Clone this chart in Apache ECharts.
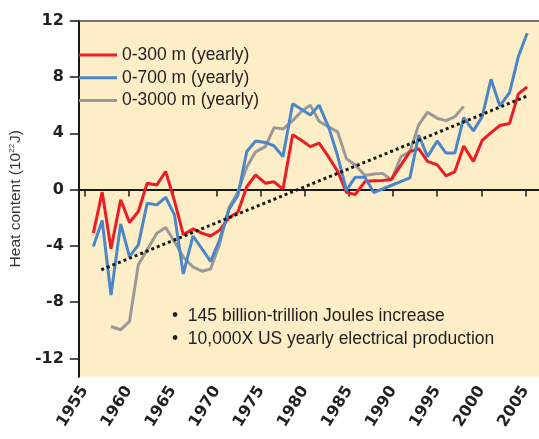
<!DOCTYPE html>
<html>
<head>
<meta charset="utf-8">
<script src="https://cdn.jsdelivr.net/npm/echarts@6/dist/echarts.min.js"></script>
<style>
html,body{margin:0;padding:0;background:#fff;}
#c{width:539px;height:439px;}
</style>
</head>
<body>
<div id="c"></div>
<script>
// Years (red and blue yearly series)
const years = [1956.0,1957.0,1958.0,1959.1,1960.1,1961.1,1962.1,1963.2,1964.2,1965.2,
  1966.2,1967.3,1968.3,1969.3,1970.3,1971.4,1972.4,1973.4,1974.4,1975.5,
  1976.5,1977.5,1978.6,1979.6,1980.6,1981.6,1982.7,1983.7,1984.7,1985.7,
  1986.8,1987.8,1988.8,1989.8,1990.9,1991.9,1992.9,1993.9,1995.0,1996.0,
  1997.0,1998.0,1999.1,2000.1,2001.1,2002.1,2003.2,2004.2,2005.2];
const red300 = [-3.1,-0.18,-4.21,-0.73,-2.34,-1.56,0.45,0.33,1.28,-0.8,
  -3.2,-2.8,-3.1,-3.3,-2.9,-2.0,-1.6,0.2,1.05,0.45,
  0.55,0.03,3.9,3.5,3.05,3.3,2.3,1.3,-0.2,-0.35,
  0.57,0.62,0.65,0.72,1.75,2.7,2.9,2.0,1.75,0.97,
  1.28,3.1,2.0,3.5,4.05,4.55,4.7,6.8,7.3];
const blue700 = [-4.05,-2.2,-7.5,-2.44,-4.76,-3.93,-0.97,-1.09,-0.55,-1.8,
  -6.0,-3.3,-4.2,-5.1,-3.6,-1.4,-0.4,2.7,3.45,3.35,
  3.1,2.34,6.1,5.7,5.3,6.0,4.4,2.4,-0.05,0.88,
  0.88,-0.21,null,null,null,0.83,3.88,2.34,3.45,2.59,
  2.59,5.11,4.17,5.18,7.84,5.94,6.89,9.45,11.11];
// 0-3000 m series (running pentads)
const grayYears = [1958.0,1959.1,1960.1,1961.1,1962.1,1963.2,1964.2,1965.2,
  1966.2,1967.3,1968.3,1969.3,1970.3,1971.4,1972.4,1973.4,1974.4,1975.5,
  1976.5,1977.5,1978.6,1979.6,1980.6,1981.6,1982.7,1983.7,1984.7,1985.7,
  1986.8,1987.8,1988.8,1989.8,1990.9,1991.9,1992.9,1993.9,1995.0,1996.0,
  1997.0,1998.0];
const gray3000 = [-9.73,-9.96,-9.37,-5.35,-4.28,-3.1,-2.7,-3.7,
  -4.8,-5.5,-5.8,-5.65,-3.9,-1.25,-0.15,1.6,2.68,3.05,
  4.4,4.3,4.9,5.55,6.0,4.85,4.45,4.1,2.2,1.75,
  1.0,1.1,1.15,0.7,2.35,2.7,4.6,5.5,5.06,4.9,
  5.18,5.91];
const trendYears = [1956.9, 2005.4];
const trendValues = [-5.7, 6.7];
const xTicks = [1955,1960,1965,1970,1975,1980,1985,1990,1995,2000,2005];
const yTicks = [-12,-8,-4,0,4,8,12];
const seriesNames = ['0-300 m (yearly)','0-700 m (yearly)','0-3000 m (yearly)'];
const notes = ['\u2022  145 billion-trillion Joules increase','\u2022  10,000X US yearly electrical production'];

const pairs = (xs, ys) => xs.map((x, i) => [x, ys[i]]);

const chart = echarts.init(document.getElementById('c'), null, {renderer:'canvas'});
const axisFont = {fontFamily:'DejaVu Sans', fontWeight:'bold', fontSize:16, color:'#231f20'};
const textFont = 'Liberation Sans';

chart.setOption({
  animation:false,
  backgroundColor:'#ffffff',
  grid:{left:68, top:20.7, right:0, bottom:62.3, show:true, backgroundColor:'#fdeec7', borderWidth:0},
  legend:{
    data:seriesNames, orient:'vertical', left:79, top:46, padding:0,
    itemWidth:38, itemHeight:3, itemGap:4.7, icon:'rect',
    textStyle:{fontFamily:textFont, fontSize:17.5, lineHeight:18, color:'#231f20'}
  },
  xAxis:[{
    type:'value', min:1954.35, max:2006.54,
    axisLine:{show:true, lineStyle:{color:'#1a1a1a', width:2}},
    axisTick:{show:true, length:7, customValues:xTicks, lineStyle:{color:'#1a1a1a', width:1.5}},
    axisLabel:Object.assign({customValues:xTicks, rotate:58, margin:11, formatter:v => String(v)}, axisFont),
    splitLine:{show:false}
  },{
    type:'value', position:'top', min:1954.35, max:2006.54,
    axisLine:{show:true, lineStyle:{color:'#4a4a4a', width:1.5}},
    axisTick:{show:false}, axisLabel:{show:false}, splitLine:{show:false}
  }],
  yAxis:{
    type:'value', min:-13.3, max:12,
    name:'{t|Heat content (10}{s|22}{t|J)}',
    nameLocation:'middle', nameGap:40,
    nameTextStyle:{rich:{
      t:{fontFamily:textFont, fontSize:15.5, color:'#333333'},
      s:{fontFamily:textFont, fontSize:8, color:'#333333', verticalAlign:'top', padding:[0,1,7,0]}
    }},
    axisLine:{show:true, lineStyle:{color:'#1a1a1a', width:2}},
    axisTick:{show:true, length:9, customValues:yTicks, lineStyle:{color:'#1a1a1a', width:1.5}},
    axisLabel:Object.assign({customValues:yTicks, margin:15}, axisFont),
    splitLine:{show:false}
  },
  series:[
    {name:seriesNames[0], type:'line', data:pairs(years, red300), symbol:'none',
     color:'#ec1c24', lineStyle:{width:3, color:'#ec1c24'}, z:3},
    {name:seriesNames[1], type:'line', data:pairs(years, blue700), symbol:'none', connectNulls:true,
     color:'#4a86c8', lineStyle:{width:3, color:'#4a86c8'}, z:4},
    {name:seriesNames[2], type:'line', data:pairs(grayYears, gray3000), symbol:'none',
     color:'#999999', lineStyle:{width:3, color:'#999999'}, z:2},
    {name:'trend', type:'line', data:pairs(trendYears, trendValues), symbol:'none',
     lineStyle:{width:3, color:'#1a1a1a', type:[3,3], cap:'butt'}, z:5}
  ],
  graphic:[
    {type:'text', x:172, y:316, style:{text:notes[0], font:'17.5px "Liberation Sans"', fill:'#231f20', verticalAlign:'middle'}},
    {type:'text', x:172, y:339.5, style:{text:notes[1], font:'17.5px "Liberation Sans"', fill:'#231f20', verticalAlign:'middle'}}
  ]
});
</script>
</body>
</html>
